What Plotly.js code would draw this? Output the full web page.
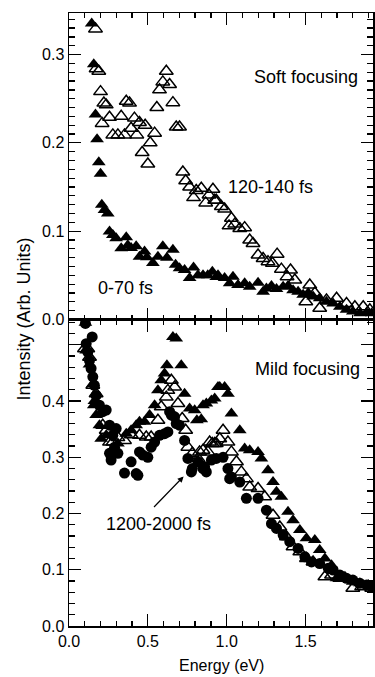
<!DOCTYPE html>
<html>
<head>
<meta charset="utf-8">
<script src="https://cdn.plot.ly/plotly-3.0.1.min.js"></script>
<style>
html,body{margin:0;padding:0;background:#fff;}
#chart{width:375px;height:677px;}
</style>
</head>
<body>
<div id="chart"></div>
<script>
// ---- Soft focusing (top panel) ----
const softFilledE = [0.144,0.157,0.168,0.178,0.189,0.2,0.208,0.225,0.246,0.257,0.278,0.299,0.331,0.363,0.373,0.394,0.426,0.447,0.479,0.494,0.532,0.564,0.595,0.621,0.659,0.676,0.701,0.733,0.765,0.79,0.818,0.85,0.88,0.909,0.934,0.945,0.987,1.019,1.04,1.072,1.114,1.146,1.199,1.231,1.252,1.284,1.316,1.358,1.389,1.421,1.453,1.485,1.517,1.548,1.59,1.633,1.675,1.718,1.76,1.80,1.845,1.887,1.92];
const softFilledI = [0.335,0.289,0.232,0.204,0.178,0.165,0.130,0.124,0.120,0.0995,0.0957,0.092,0.0806,0.093,0.084,0.081,0.083,0.071,0.077,0.0704,0.064,0.071,0.083,0.070,0.079,0.062,0.058,0.056,0.047,0.059,0.050,0.050,0.050,0.054,0.048,0.050,0.047,0.041,0.0485,0.039,0.041,0.037,0.0417,0.0315,0.035,0.038,0.0345,0.037,0.038,0.033,0.0315,0.028,0.030,0.026,0.024,0.020,0.018,0.0145,0.011,0.009,0.007,0.0077,0.007];

const softOpenE = [0.168,0.172,0.189,0.2,0.21,0.221,0.236,0.257,0.278,0.31,0.331,0.352,0.363,0.384,0.394,0.415,0.43,0.447,0.464,0.483,0.5,0.515,0.543,0.557,0.574,0.595,0.617,0.638,0.659,0.68,0.701,0.722,0.74,0.765,0.79,0.807,0.839,0.867,0.888,0.913,0.924,0.934,0.966,0.987,1.015,1.03,1.051,1.083,1.114,1.146,1.167,1.199,1.231,1.262,1.29,1.32,1.347,1.383,1.405,1.432,1.502,1.527,1.559,1.59,1.633,1.697,1.76,1.813,1.866,1.908];
const softOpenI = [0.329,0.284,0.281,0.258,0.222,0.245,0.243,0.229,0.209,0.209,0.230,0.209,0.247,0.245,0.2165,0.228,0.209,0.223,0.189,0.220,0.176,0.200,0.211,0.240,0.260,0.269,0.281,0.266,0.2455,0.218,0.218,0.167,0.157,0.150,0.138,0.146,0.1485,0.132,0.141,0.1475,0.135,0.135,0.128,0.125,0.106,0.1146,0.108,0.103,0.104,0.090,0.086,0.073,0.069,0.0655,0.0636,0.074,0.057,0.0485,0.056,0.0447,0.020,0.039,0.030,0.0127,0.022,0.024,0.018,0.0145,0.0145,0.011];

// ---- Mild focusing (bottom panel) ----
const mildFilledE = [0.104,0.109,0.13,0.151,0.157,0.161,0.172,0.193,0.204,0.236,0.31,0.363,0.394,0.426,0.447,0.479,0.511,0.543,0.564,0.585,0.606,0.621,0.659,0.68,0.712,0.733,0.765,0.797,0.811,0.839,0.85,0.871,0.903,0.924,0.945,0.956,0.987,1.008,1.03,1.083,1.114,1.146,1.199,1.22,1.262,1.294,1.316,1.347,1.389,1.421,1.464,1.506,1.559,1.59,1.623,1.665,1.697,1.75,1.80,1.845,1.898];
const mildFilledI = [0.539,0.49,0.465,0.43,0.3925,0.40,0.375,0.357,0.333,0.339,0.3245,0.342,0.348,0.357,0.363,0.363,0.375,0.3925,0.419,0.437,0.449,0.4636,0.514,0.511,0.4636,0.413,0.3867,0.3837,0.366,0.3677,0.3925,0.3955,0.401,0.4044,0.425,0.425,0.425,0.413,0.378,0.348,0.3156,0.3126,0.3096,0.298,0.277,0.256,0.2385,0.2297,0.203,0.188,0.1705,0.156,0.153,0.135,0.120,0.108,0.0847,0.0876,0.0787,0.076,0.073];

const mildOpenE = [0.098,0.119,0.13,0.151,0.172,0.214,0.236,0.257,0.278,0.31,0.352,0.394,0.447,0.49,0.521,0.564,0.585,0.617,0.627,0.649,0.67,0.691,0.718,0.74,0.754,0.782,0.818,0.828,0.85,0.881,0.892,0.909,0.924,0.934,0.956,0.977,1.008,1.03,1.062,1.093,1.125,1.146,1.199,1.241,1.294,1.337,1.379,1.421,1.464,1.506,1.548,1.623,1.665,1.718,1.80,1.856,1.92];
const mildOpenI = [0.493,0.493,0.478,0.428,0.413,0.357,0.348,0.327,0.327,0.335,0.33,0.34,0.339,0.336,0.336,0.366,0.39,0.407,0.419,0.437,0.425,0.3955,0.369,0.348,0.318,0.307,0.298,0.3096,0.3126,0.3096,0.327,0.3245,0.3245,0.3245,0.333,0.348,0.327,0.3096,0.292,0.274,0.262,0.247,0.2445,0.2297,0.197,0.176,0.1586,0.141,0.132,0.120,0.114,0.0876,0.0906,0.0847,0.067,0.07,0.067];

const mildCircleE = [0.104,0.109,0.119,0.13,0.14,0.147,0.151,0.161,0.172,0.193,0.214,0.236,0.257,0.278,0.289,0.257,0.267,0.299,0.31,0.352,0.394,0.426,0.437,0.447,0.468,0.5,0.521,0.543,0.574,0.606,0.627,0.638,0.649,0.67,0.68,0.70,0.733,0.754,0.776,0.782,0.818,0.85,0.86,0.871,0.903,0.934,0.977,1.008,1.019,1.03,1.083,1.125,1.199,1.252,1.284,1.316,1.358,1.40,1.453,1.496,1.538,1.59,1.644,1.675,1.718,1.76,1.80,1.845,1.887,1.92];
const mildCircleI = [0.538,0.502,0.487,0.472,0.458,0.514,0.443,0.428,0.41,0.3925,0.381,0.384,0.357,0.339,0.318,0.307,0.295,0.351,0.307,0.272,0.292,0.271,0.268,0.3096,0.304,0.30,0.318,0.327,0.339,0.342,0.345,0.381,0.375,0.372,0.36,0.357,0.330,0.298,0.274,0.280,0.292,0.28,0.283,0.274,0.295,0.298,0.30,0.28,0.262,0.265,0.256,0.227,0.227,0.206,0.182,0.1735,0.1616,0.15,0.138,0.123,0.114,0.111,0.1025,0.0995,0.0906,0.0847,0.0817,0.0758,0.0728,0.07];

const topTickVals = [0, 0.1, 0.2, 0.3];
const topTickText = ['0.0', '0.1', '0.2', '0.3'];
const botTickVals = [0, 0.1, 0.2, 0.3, 0.4, 0.5];
const botTickText = ['0.0', '0.1', '0.2', '0.3', '0.4', ''];

const FONT = 'Liberation Sans, Arial, Helvetica, sans-serif';
const filledTri = {symbol: 'triangle-up', size: 12, color: 'black'};
const openTri = {symbol: 'triangle-up-open', size: 12, color: 'black', line: {width: 1.5, color: 'black'}};
const circ = {symbol: 'circle', size: 11, color: 'black'};

const traces = [
  {x: softOpenE, y: softOpenI, xaxis: 'x', yaxis: 'y', mode: 'markers', marker: openTri, name: '120-140 fs'},
  {x: softFilledE, y: softFilledI, xaxis: 'x', yaxis: 'y', mode: 'markers', marker: filledTri, name: '0-70 fs'},
  {x: mildCircleE, y: mildCircleI, xaxis: 'x2', yaxis: 'y2', mode: 'markers', marker: circ, name: '1200-2000 fs'},
  {x: mildOpenE, y: mildOpenI, xaxis: 'x2', yaxis: 'y2', mode: 'markers', marker: openTri, name: '120-140 fs mild'},
  {x: mildFilledE, y: mildFilledI, xaxis: 'x2', yaxis: 'y2', mode: 'markers', marker: filledTri, name: '0-70 fs mild'}
];

const xCommon = {
  range: [0, 1.928], tickmode: 'linear', tick0: 0, dtick: 0.5, tickformat: '.1f',
  ticks: 'inside', ticklen: 12, tickwidth: 1.3, tickcolor: 'black',
  minor: {tickmode: 'linear', tick0: 0, dtick: 0.1, ticks: 'inside', ticklen: 5, tickwidth: 1.3, tickcolor: 'black'},
  showline: true, linecolor: 'black', linewidth: 1.5, mirror: 'allticks',
  showgrid: false, zeroline: false,
  tickfont: {family: FONT, size: 16, color: 'black'}
};
const yCommon = {
  tickmode: 'array', ticks: 'inside', ticklen: 12, tickwidth: 1.3, tickcolor: 'black',
  showline: true, linecolor: 'black', linewidth: 1.5, mirror: 'allticks',
  showgrid: false, zeroline: false,
  tickfont: {family: FONT, size: 16, color: 'black'}
};

const layout = {
  width: 375, height: 677,
  margin: {l: 69, r: 2, t: 13, b: 51},
  paper_bgcolor: 'white', plot_bgcolor: 'white',
  showlegend: false,
  font: {family: FONT, color: 'black'},
  xaxis: Object.assign({}, xCommon, {anchor: 'y', showticklabels: false}),
  xaxis2: Object.assign({}, xCommon, {anchor: 'y2', matches: 'x'}),
  yaxis: Object.assign({}, yCommon, {domain: [0.5, 1], anchor: 'x', range: [0, 0.347],
    tickvals: topTickVals, ticktext: topTickText,
    minor: {tickmode: 'linear', tick0: 0, dtick: 0.01, ticks: 'inside', ticklen: 6, tickwidth: 1.3, tickcolor: 'black'}}),
  yaxis2: Object.assign({}, yCommon, {domain: [0, 0.5], anchor: 'x2', range: [0, 0.545],
    tickvals: botTickVals, ticktext: botTickText,
    minor: {tickmode: 'linear', tick0: 0, dtick: 0.02, ticks: 'inside', ticklen: 6, tickwidth: 1.3, tickcolor: 'black'}}),
  annotations: [
    {xref: 'x', yref: 'y', x: 1.845, y: 0.275, xanchor: 'right', yanchor: 'middle', text: 'Soft focusing', showarrow: false, font: {size: 18, family: FONT, color: 'black'}},
    {xref: 'x', yref: 'y', x: 0.994, y: 0.150, xanchor: 'left', yanchor: 'middle', text: '120-140 fs', showarrow: false, font: {size: 18, family: FONT, color: 'black'}},
    {xref: 'x', yref: 'y', x: 0.172, y: 0.0353, xanchor: 'left', yanchor: 'middle', text: '0-70 fs', showarrow: false, font: {size: 18, family: FONT, color: 'black'}},
    {xref: 'x2', yref: 'y2', x: 1.856, y: 0.4577, xanchor: 'right', yanchor: 'middle', text: 'Mild focusing', showarrow: false, font: {size: 18, family: FONT, color: 'black'}},
    {xref: 'x2', yref: 'y2', x: 0.569, y: 0.182, xanchor: 'center', yanchor: 'middle', text: '1200-2000 fs', showarrow: false, font: {size: 18, family: FONT, color: 'black'}},
    {xref: 'x2', yref: 'y2', x: 0.727, y: 0.266, axref: 'x2', ayref: 'y2', ax: 0.53, ay: 0.209, text: '', showarrow: true, arrowhead: 2, arrowsize: 1, arrowwidth: 1.2, arrowcolor: 'black'},
    {xref: 'paper', yref: 'paper', x: -0.151, y: 0.5, xanchor: 'center', yanchor: 'middle', textangle: -90, text: 'Intensity (Arb. Units)', showarrow: false, font: {size: 18, family: FONT, color: 'black'}},
    {xref: 'paper', yref: 'paper', x: 0.503, y: -0.065, xanchor: 'center', yanchor: 'middle', text: 'Energy (eV)', showarrow: false, font: {size: 16, family: FONT, color: 'black'}}
  ]
};

Plotly.newPlot('chart', traces, layout, {staticPlot: true, displayModeBar: false});
</script>
</body>
</html>
